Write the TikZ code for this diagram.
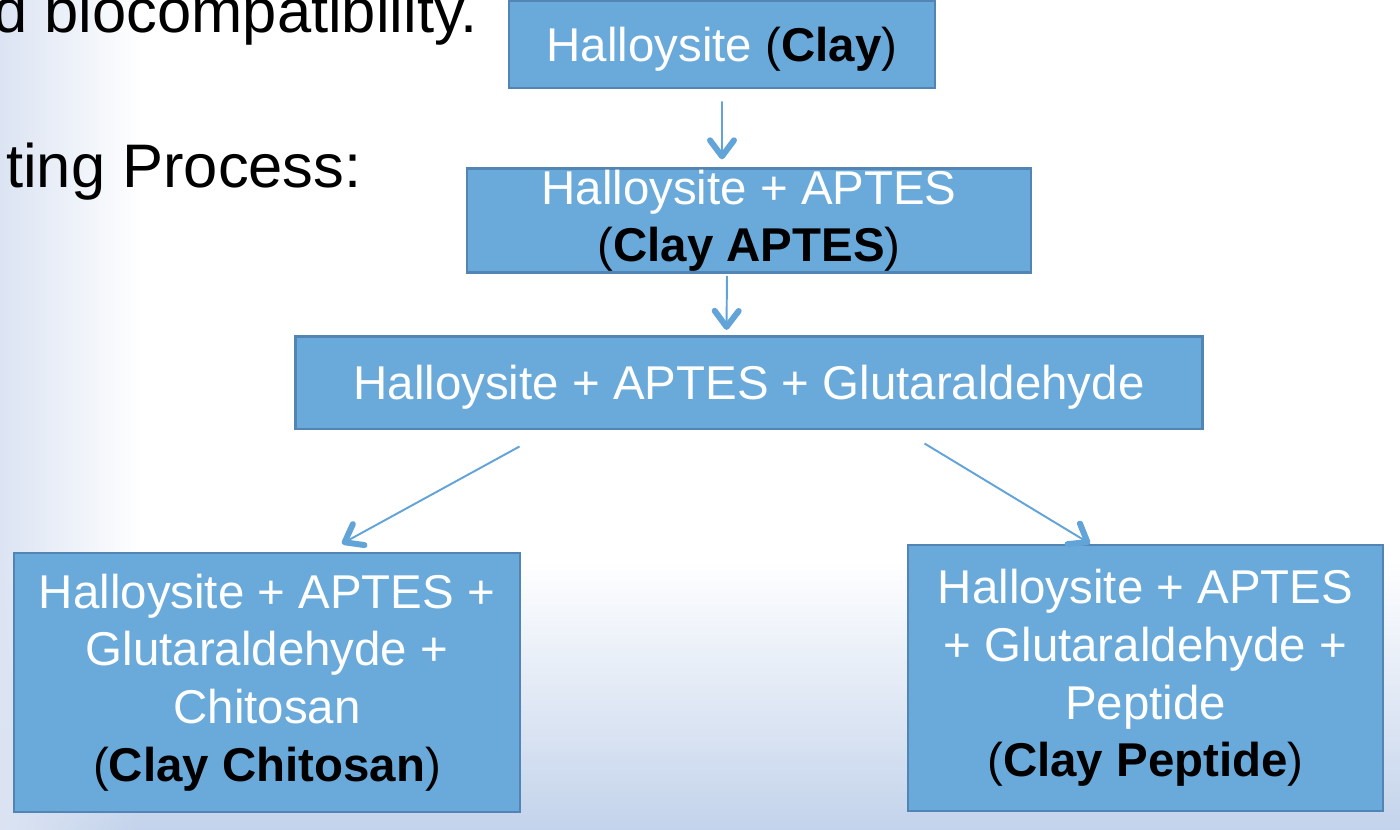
\documentclass[tikz,border=0pt]{standalone}
\usepackage{fontspec}
\setmainfont{Liberation Sans}
\usetikzlibrary{positioning,arrows.meta,fadings}
\definecolor{bxfill}{RGB}{106,170,219}
\definecolor{bxline}{RGB}{82,132,180}
\definecolor{arcol}{RGB}{98,164,216}
\definecolor{bgleft}{RGB}{220,228,243}
\definecolor{bgbot}{RGB}{195,211,235}
\tikzfading[name=fadeleft, left color=transparent!0, right color=transparent!100]
\tikzset{
  bx/.style={rectangle, draw=bxline, line width=1.5pt, fill=bxfill, text=white, align=center, inner sep=0pt,
    font=\fontsize{27}{32.8}\selectfont, execute at begin node=\rule{0pt}{24.5pt}},
  ar/.style={draw=arcol, line width=1.1pt, -{Straight Barb[length=0.32cm, width=0.48cm, line width=3.4pt, round]}},
  hd/.style={anchor=base east, text=black, inner sep=0pt, font=\fontsize{35}{42}\selectfont},
}
\begin{document}
\begin{tikzpicture}[x=0.02cm, y=0.02cm]
	\useasboundingbox (0,0) rectangle (1400,830);
	\clip (0,0) rectangle (1400,830);
	% background
	\fill[white] (0,0) rectangle (1400,830);
	\shade[top color=white, bottom color=bgbot] (0,0) rectangle (1400,270);
	\fill[bgleft, path fading=fadeleft] (0,0) rectangle (140,830);
	\node[hd] (bio) at (478,797) {d biocompatibility.};
	\node[hd] (proc) at (362,642) {ting Process:};
	%
	\node[bx, minimum width=8.52cm, minimum height=1.74cm] (clay) at (722,785.5) {Halloysite \textcolor{black}{(\textbf{Clay})}};
	\node[bx, minimum width=11.28cm, minimum height=2.08cm, below=1.56cm of clay, xshift=0.54cm] (clayapt) {Halloysite + APTES\\\textcolor{black}{(\textbf{Clay APTES})}};
	\node[bx, minimum width=18.14cm, minimum height=1.86cm, below=1.22cm of clayapt] (glut) {Halloysite + APTES + Glutaraldehyde};
	\node[bx, minimum width=10.12cm, minimum height=5.18cm] (chito) at (267,147.5) {Halloysite + APTES +\\Glutaraldehyde +\\Chitosan\\\textcolor{black}{(\textbf{Clay Chitosan})}};
	\node[bx, minimum width=9.5cm, minimum height=5.32cm] (pept) at (1145.5,152) {Halloysite + APTES\\+ Glutaraldehyde +\\Peptide\\\textcolor{black}{(\textbf{Clay Peptide})}};
	%
	\draw[ar] ([shift={(0,-12)}]clay.south) -- ([shift={(-27,8)}]clayapt.north);
	\draw[ar] ([shift={(-22,-2)}]clayapt.south) -- ([shift={(-22.5,5)}]glut.north);
	\draw[ar] ([shift={(-229.5,-16)}]glut.south) -- ([shift={(75,8)}]chito.north);
	\draw[ar] ([shift={(175.5,-13)}]glut.south) -- ([shift={(-55.5,0)}]pept.north);
\end{tikzpicture}
\end{document}
